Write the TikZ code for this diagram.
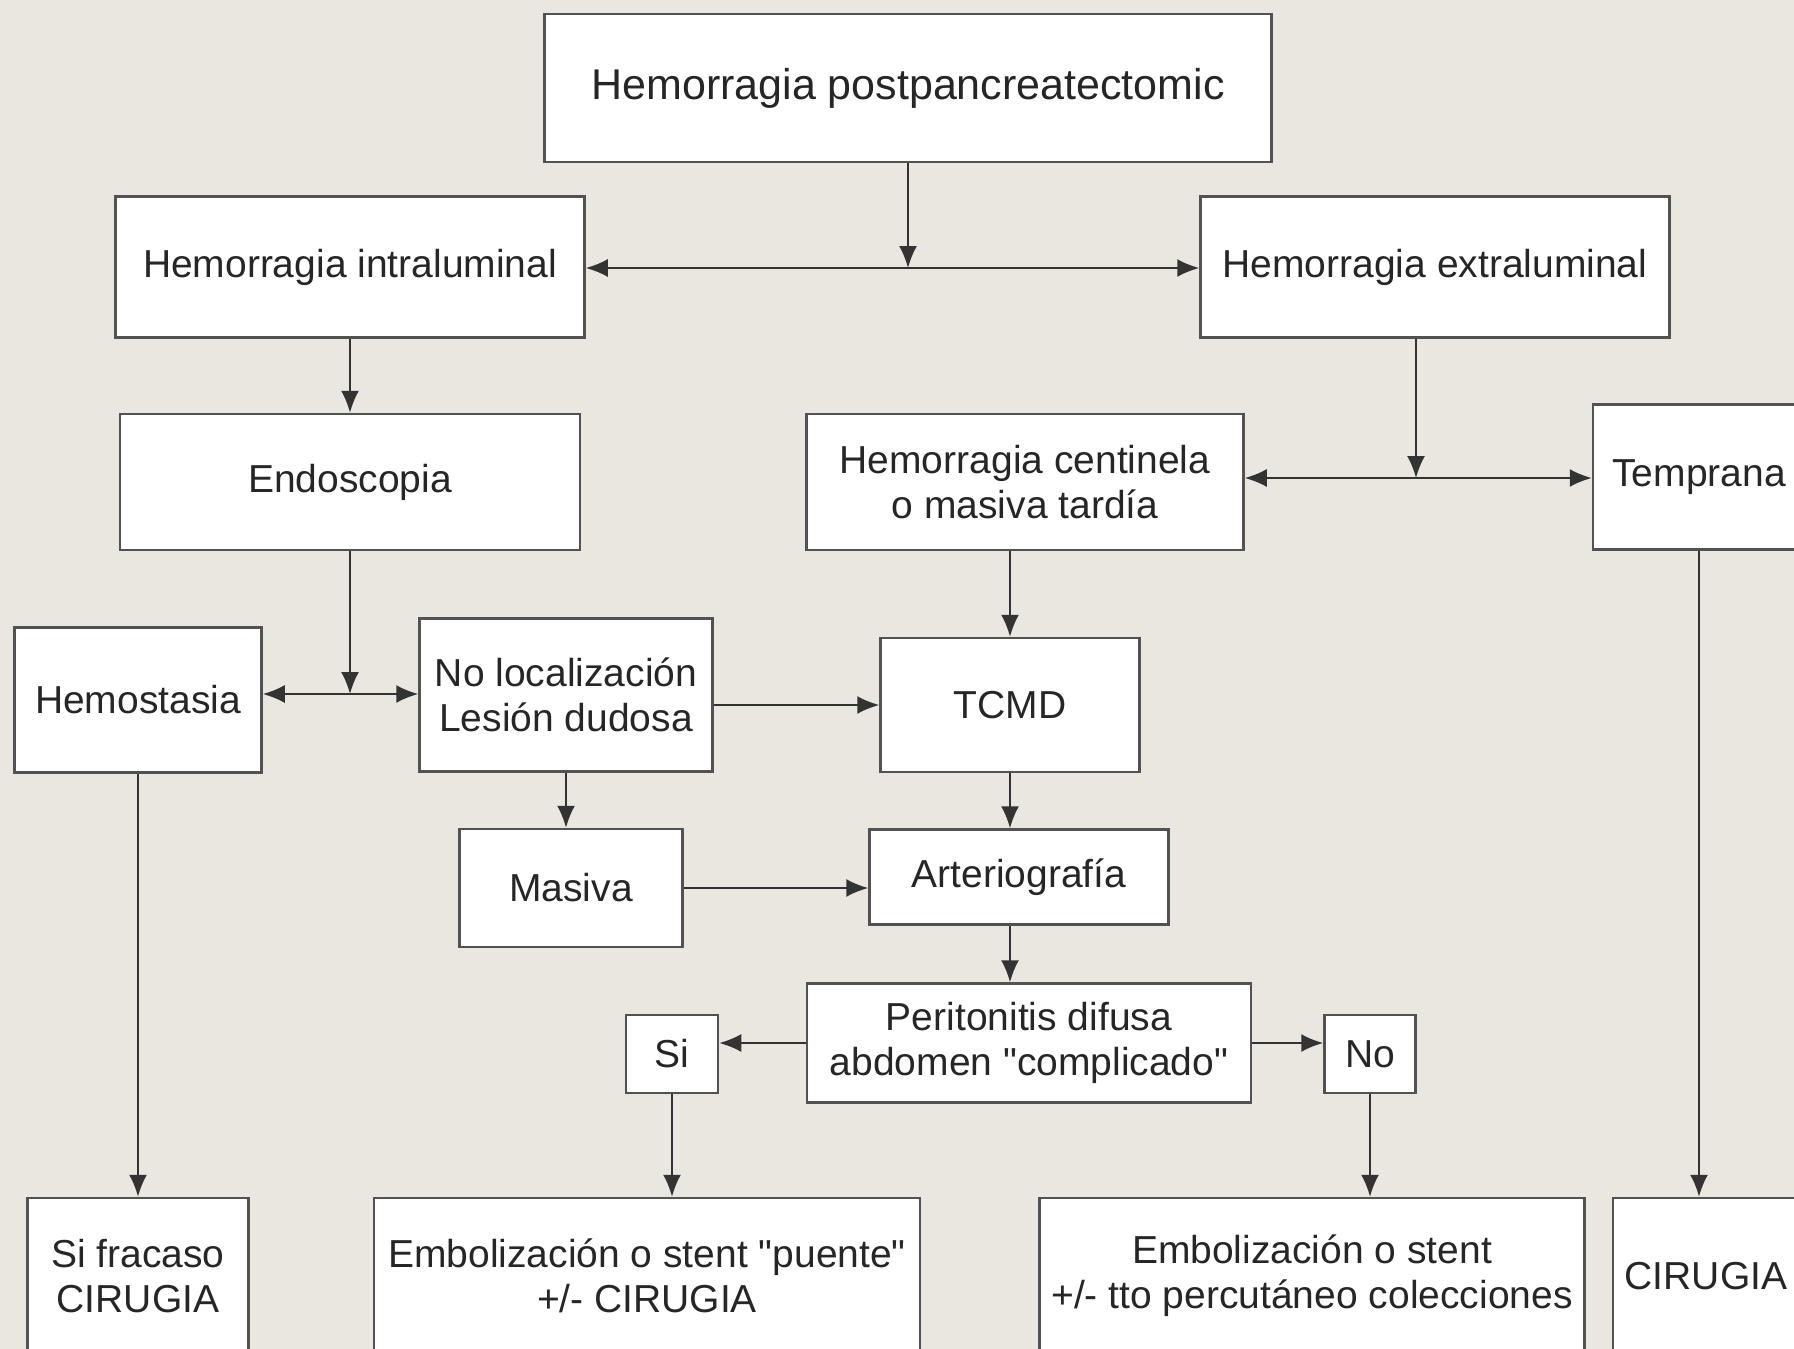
\documentclass[tikz,border=0pt]{standalone}
\usepackage{fontspec}
\setmainfont{Liberation Sans}
\usetikzlibrary{positioning}
\usetikzlibrary{arrows.meta}
\usetikzlibrary{calc}
\definecolor{bg}{HTML}{E9E7DF}
\definecolor{ln}{HTML}{333333}
\tikzset{bx/.style={draw=ln!85,line width=2.5pt,fill=white,inner sep=0pt,align=center,text=black!85,font=\fontsize{39}{45}\selectfont}}
\tikzset{ar/.style={-{Latex[length=22pt,width=18pt]},draw=ln,line width=2pt}}

\begin{document}
\begin{tikzpicture}[x=1pt,y=-1pt]
\useasboundingbox (0,0) rectangle (1794,1349);
\clip (0,0) rectangle (1794,1349);
\fill[bg] (0,0) rectangle (1794,1349);

\node[bx,minimum width=727,minimum height=148,font=\fontsize{43}{48}\selectfont] (top) at (908,88) {Hemorragia postpancreatectomic};

\node[bx,minimum width=469,minimum height=141] (intra) at (350,267) {Hemorragia intraluminal};
\node[bx,minimum width=469,minimum height=141] (extra) at (1435,267) {Hemorragia extraluminal};

\node[bx,minimum width=460,minimum height=136] (endo) at (350,482) {Endoscopia};
\node[bx,minimum width=437,minimum height=136] (cent) at (1025,482) {Hemorragia centinela\\o masiva tardía};
\node[bx,minimum width=212,minimum height=145] (temp) at (1699,477) {Temprana};

\node[bx,minimum width=247,minimum height=145] (hemo) at (138,700) {Hemostasia};
\node[bx,minimum width=293,minimum height=153] (noloc) at (566,695) {No localización\\Lesión dudosa};
\node[bx,minimum width=259,minimum height=134] (tcmd) at (1010,705) {TCMD};

\node[bx,minimum width=223,minimum height=118] (masiva) at (571,888) {Masiva};
\node[bx,minimum width=299,minimum height=95] (arterio) at (1019,877) {Arteriografía};

\node[bx,minimum width=444,minimum height=119] (perit) at (1029,1043) {Peritonitis difusa\\abdomen \textquotedbl complicado\textquotedbl};
\node[bx,minimum width=92,minimum height=78] (si) at (672,1054) {Si};
\node[bx,minimum width=91,minimum height=78] (no) at (1370,1054) {No};

\node[bx,minimum width=221,minimum height=156] (fracaso) at (138,1276) {Si fracaso\\CIRUGIA};
\node[bx,minimum width=546,minimum height=156] (puente) at (647,1276) {Embolización o stent \textquotedbl puente\textquotedbl\\+/- CIRUGIA};
\node[bx,minimum width=545,minimum height=156] (stent) at (1312,1276) {Embolización o stent\\+/- tto percutáneo colecciones};
\node[bx,minimum width=186,minimum height=156] (cir) at (1706,1276) {CIRUGIA};

% junctions
\coordinate (j1) at (908,268);
\coordinate (j2) at (1416,478);
\coordinate (j3) at (350,694);

\draw[ar] (top) -- (j1);
\draw[ar] (j1) -- (j1 -| intra.east);
\draw[ar] (j1) -- (j1 -| extra.west);

\draw[ar] (intra) -- (endo);
\draw[ar] (extra.south -| j2) -- (j2);
\draw[ar] (j2) -- (j2 -| cent.east);
\draw[ar] (j2) -- (j2 -| temp.west);

\draw[ar] (endo) -- (j3);
\draw[ar] (j3) -- (j3 -| hemo.east);
\draw[ar] (j3) -- (j3 -| noloc.west);

\draw[ar] (tcmd.west -| noloc.east) -- (tcmd.west);
\draw[ar] (cent.south -| tcmd.north) -- (tcmd.north);
\draw[ar] (noloc.south) -- (noloc.south |- masiva.north);
\draw[ar] (masiva.east) -- (masiva.east -| arterio.west);
\draw[ar] (tcmd.south) -- (tcmd.south |- arterio.north);
\draw[ar] (arterio.south -| tcmd.south) -- (perit.north -| tcmd.south);

\draw[ar] (perit.west) -- (perit.west -| si.east);
\draw[ar] (perit.east) -- (perit.east -| no.west);
\draw[ar] (si.south) -- (si.south |- puente.north);
\draw[ar] (no.south) -- (no.south |- stent.north);

\draw[ar] (hemo) -- (fracaso);
\draw[ar] (temp.south) -- (temp.south |- cir.north);
\end{tikzpicture}
\end{document}
